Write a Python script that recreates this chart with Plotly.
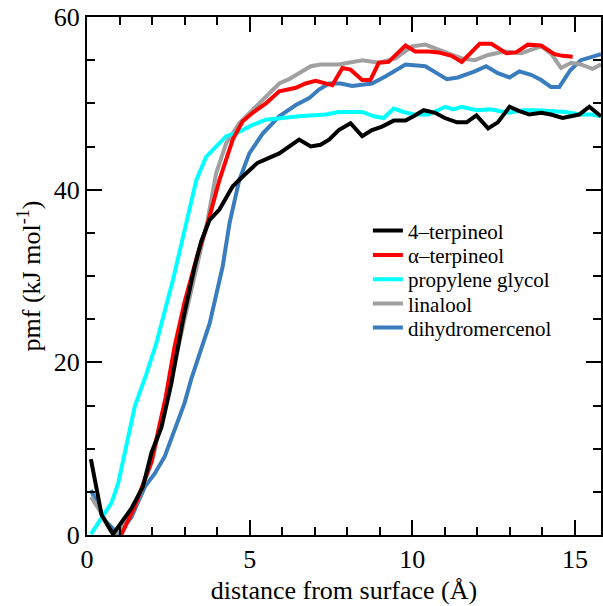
import plotly.graph_objects as go

# ---- data ----
terp4_x = [0.12, 0.45, 0.8, 1.37, 1.72, 1.98, 2.29, 2.59, 2.95, 3.31, 3.51, 3.77, 4.07, 4.48, 4.78, 5.24,
           5.91, 6.21, 6.52, 6.88, 7.18, 7.44, 7.74, 8.1, 8.46, 8.76, 9.07, 9.43, 9.79, 10.04, 10.35, 10.7,
           11.0, 11.37, 11.67, 11.97, 12.33, 12.63, 12.99, 13.29, 13.6, 13.96, 14.26, 14.62, 15.13, 15.44, 15.8]
terp4_y = [8.8, 2.3, 0.1, 3.1, 5.6, 9.5, 12.5, 17.5, 24.9, 31.1, 34.0, 36.5, 37.7, 40.4, 41.5, 43.1,
           44.2, 45.0, 45.8, 45.0, 45.2, 45.8, 46.9, 47.7, 46.2, 46.9, 47.3, 48.0, 48.0, 48.5, 49.2, 48.9,
           48.3, 47.8, 47.8, 48.6, 47.1, 47.8, 49.6, 49.1, 48.7, 48.9, 48.7, 48.3, 48.7, 49.6, 48.5]

aterp_x = [1.05, 1.47, 1.98, 2.42, 2.69, 3.0, 3.4, 3.71, 4.07, 4.48, 4.78, 5.09, 5.5, 5.91, 6.42, 6.72,
           7.03, 7.28, 7.54, 7.85, 8.1, 8.46, 8.71, 8.97, 9.27, 9.79, 10.09, 10.5, 10.8, 11.21, 11.52,
           12.07, 12.43, 12.89, 13.19, 13.55, 13.96, 14.37, 14.62, 14.93]
aterp_y = [0.0, 3.3, 8.5, 16.0, 21.8, 27.0, 32.5, 36.1, 41.1, 45.8, 47.9, 48.9, 50.0, 51.4, 51.8, 52.3,
           52.6, 52.3, 52.1, 54.1, 53.9, 52.7, 52.7, 54.7, 54.8, 56.7, 56.0, 56.0, 55.9, 55.5, 54.8,
           56.9, 56.9, 55.8, 55.9, 56.8, 56.7, 55.7, 55.5, 55.4]

pg_x = [0.12, 0.75, 0.96, 1.27, 1.47, 1.83, 2.13, 2.29, 2.64, 3.05, 3.36, 3.66, 4.28, 4.68, 5.09, 5.5,
        6.0, 6.52, 7.34, 7.74, 8.46, 8.82, 9.12, 9.43, 9.73, 10.04, 10.5, 11.01, 11.26, 11.52, 11.97,
        12.4, 12.94, 13.4, 13.86, 14.3, 14.7, 15.18, 15.5, 15.8]
pg_y = [0.1, 3.7, 6.0, 11.4, 14.9, 18.7, 22.2, 24.5, 29.5, 36.1, 41.1, 43.8, 46.2, 46.7, 47.5, 48.1,
        48.3, 48.5, 48.7, 49.0, 49.0, 48.5, 48.3, 49.4, 49.0, 48.7, 48.7, 49.6, 49.3, 49.6, 49.2,
        49.3, 48.9, 49.2, 49.2, 49.1, 49.0, 48.7, 48.7, 48.5]

lin_x = [0.12, 0.45, 0.7, 0.85, 1.2, 1.5, 2.0, 2.5, 3.0, 3.4, 3.71, 3.97, 4.28, 4.68, 5.09, 5.5, 5.91,
         6.21, 6.52, 6.88, 7.18, 7.74, 8.46, 8.97, 9.48, 9.99, 10.4, 10.8, 11.11, 11.52, 11.92, 12.33,
         12.83, 13.35, 13.96, 14.26, 14.57, 14.88, 15.18, 15.54, 15.8]
lin_y = [4.4, 2.5, 0.6, 0.0, 1.5, 3.5, 8.5, 16.5, 25.0, 31.5, 36.5, 41.9, 45.4, 47.7, 49.2, 50.8, 52.3,
         52.8, 53.5, 54.3, 54.5, 54.5, 55.0, 54.7, 55.2, 56.6, 56.8, 56.3, 55.8, 55.2, 55.0, 55.6,
         56.0, 55.8, 56.6, 55.8, 54.1, 54.7, 54.5, 54.0, 54.5]

dhm_x = [0.12, 0.55, 0.96, 1.37, 1.78, 2.08, 2.39, 2.69, 3.0, 3.2, 3.5, 3.77, 4.17, 4.38, 4.68, 4.99,
         5.4, 5.91, 6.42, 6.83, 7.13, 7.44, 7.8, 8.15, 8.76, 9.17, 9.79, 10.4, 10.75, 11.06, 11.4,
         11.72, 11.92, 12.27, 12.63, 12.99, 13.29, 13.65, 13.96, 14.26, 14.52, 14.85, 15.18, 15.8]
dhm_y = [5.2, 1.7, 0.1, 2.1, 5.6, 7.1, 9.1, 12.2, 15.3, 18.0, 21.5, 24.5, 31.1, 36.1, 41.1, 44.2,
         46.5, 48.5, 49.8, 50.6, 51.6, 52.3, 52.3, 52.0, 52.3, 53.1, 54.5, 54.3, 53.5, 52.8, 53.0,
         53.4, 53.7, 54.3, 53.5, 53.0, 53.7, 53.3, 52.7, 51.9, 51.9, 53.8, 55.0, 55.7]

names = ["4\u2013terpineol", "\u03b1\u2013terpineol", "propylene glycol", "linalool", "dihydromercenol"]
colors = ["#000000", "#ff0000", "#00ffff", "#a0a0a0", "#3a7dbe"]
xs = [terp4_x, aterp_x, pg_x, lin_x, dhm_x]
ys = [terp4_y, aterp_y, pg_y, lin_y, dhm_y]
legend_rows = [0.587, 0.540, 0.493, 0.446, 0.400]   # paper y of each legend entry

FONT = "Liberation Serif"
legend_ids = ["legend", "legend2", "legend3", "legend4", "legend5"]

fig = go.Figure()
# draw in reverse so black is on top
for i in reversed(range(5)):
    fig.add_trace(go.Scatter(x=xs[i], y=ys[i], mode="lines", name=names[i],
                             legend=legend_ids[i],
                             line=dict(color=colors[i], width=4)))

axis_common = dict(
    showline=True, linecolor="black", linewidth=2, mirror="allticks",
    ticks="inside", ticklen=15, tickwidth=2, tickcolor="black",
    showgrid=False, zeroline=False,
    tickfont=dict(family=FONT, size=26, color="black"),
)

fig.update_xaxes(range=[0, 15.8], tickvals=[0, 5, 10, 15],
                 minor=dict(dtick=1, ticks="inside", ticklen=8, tickwidth=2, tickcolor="black", showgrid=False),
                 title=dict(text="distance from surface (\u00c5)", font=dict(family=FONT, size=26, color="black"), standoff=8),
                 **axis_common)
fig.update_yaxes(range=[0, 60], tickvals=[0, 20, 40, 60],
                 minor=dict(dtick=5, ticks="inside", ticklen=8, tickwidth=2, tickcolor="black", showgrid=False),
                 title=dict(text="pmf (kJ mol<sup>-1</sup>)", font=dict(family=FONT, size=26, color="black"), standoff=6),
                 **axis_common)

legends = {}
for i, lid in enumerate(legend_ids):
    legends[lid] = dict(x=0.5465, y=legend_rows[i], xanchor="left", yanchor="middle",
                        bgcolor="rgba(0,0,0,0)", borderwidth=0,
                        font=dict(family=FONT, size=21, color="black"), itemwidth=30)

fig.update_layout(
    width=603, height=606,
    margin=dict(l=87, r=0, t=17, b=71),
    plot_bgcolor="white", paper_bgcolor="white",
    font=dict(family=FONT, color="black"),
    showlegend=True,
    **legends,
)

fig.write_html("out.html")
